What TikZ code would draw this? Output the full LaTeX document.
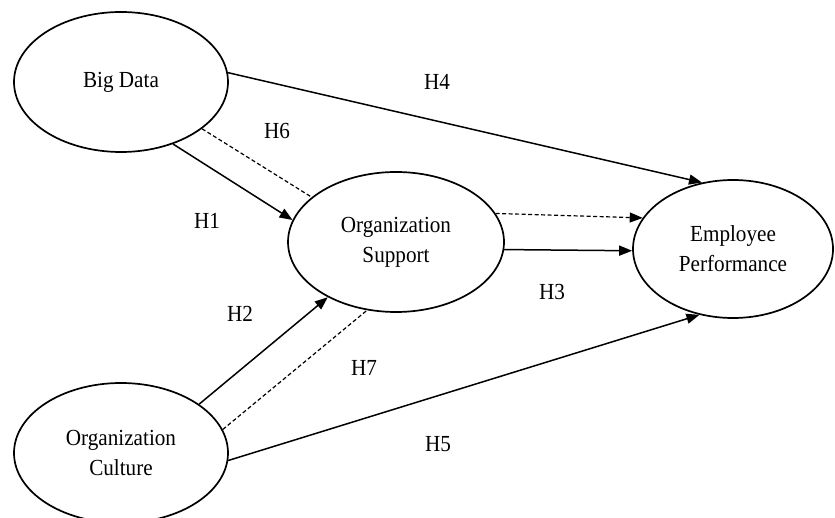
\documentclass[tikz,border=0pt]{standalone}
\usepackage{fontspec}
\setmainfont{Liberation Serif}[FakeStretch=0.92]
\usetikzlibrary{shapes.geometric,arrows.meta}
\begin{document}
\begin{tikzpicture}[x=1pt,y=-1pt,
  construct/.style={ellipse,draw,line width=1.7pt,inner sep=0pt,align=center,
    font=\fontsize{23}{30}\selectfont},
  lbl/.style={font=\fontsize{23}{25}\selectfont,inner sep=0pt},
  path/.style={line width=1.5pt,-{Triangle[length=13pt,width=10pt]}},
  med/.style={line width=1.2pt,dash pattern=on 4pt off 2.5pt},
  medarrow/.style={med,-{Triangle[length=13pt,width=10pt]}}]
\useasboundingbox (0,0) rectangle (835,518);
\node[construct,minimum width=214pt,minimum height=140pt] (bd) at (121,82) {Big Data};
\node[construct,minimum width=216pt,minimum height=140pt] (os) at (396,242) {Organization\\Support};
\node[construct,minimum width=200pt,minimum height=138pt] (ep) at (733,249) {Employee\\Performance};
\node[construct,minimum width=214pt,minimum height=140pt] (oc) at (121,453) {Organization\\Culture};

\draw[path] (bd.5.4) -- (ep.115.6);
\draw[med] (bd.-30.3) -- (os.152);
\draw[path] (bd.-50) -- (os.168.6);
\draw[medarrow] (os.16) -- (ep.161.6);
\draw[path] (os.-4.3) -- (ep.181.7);
\draw[path] (oc.32.3) -- (os.219.6);
\draw[med] (oc.13.2) -- (os.247.5);
\draw[path] (oc.-4.3) -- (ep.243);

\node[lbl] (h4) at (437,82) {H4};
\node[lbl] (h6) at (277,131) {H6};
\node[lbl] (h1) at (207,221) {H1};
\node[lbl] (h2) at (240,314) {H2};
\node[lbl] (h7) at (364,368) {H7};
\node[lbl] (h5) at (438,444) {H5};
\node[lbl] (h3) at (552,292) {H3};
\end{tikzpicture}
\end{document}
